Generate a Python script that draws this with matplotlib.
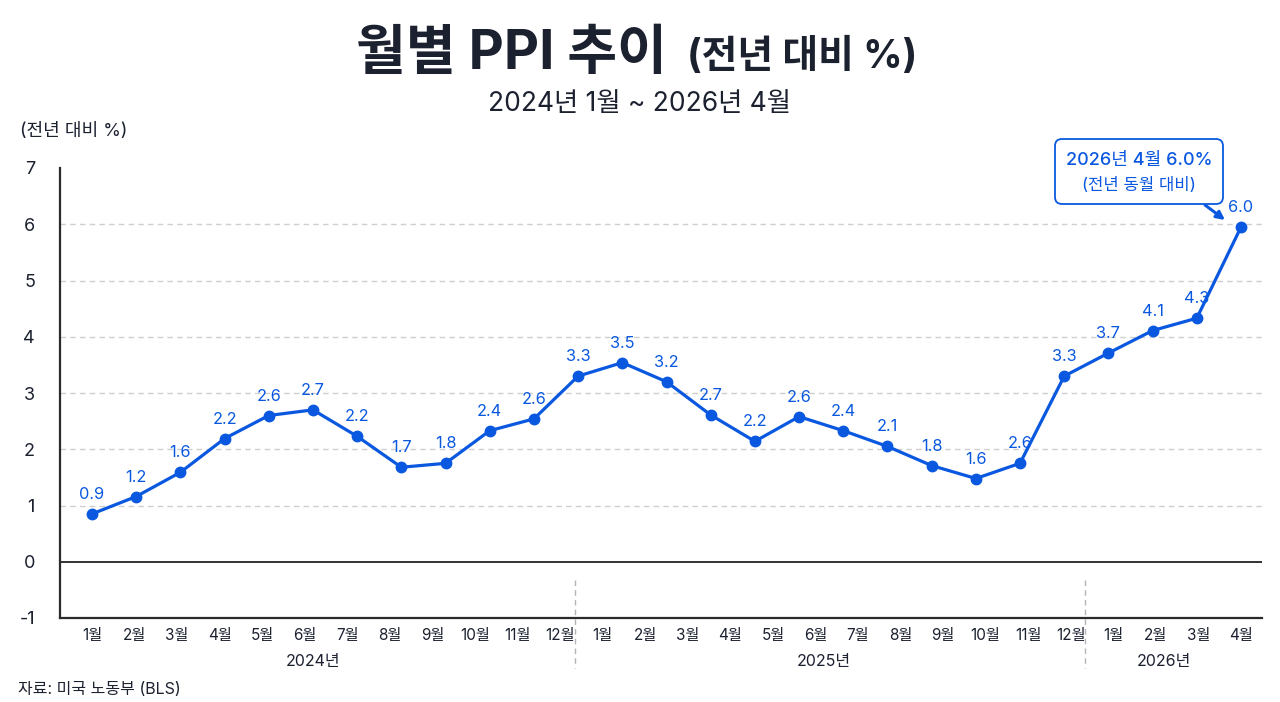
import numpy as np
import matplotlib
matplotlib.use("Agg")
import matplotlib.pyplot as plt
from matplotlib.patches import FancyBboxPatch
import matplotlib.transforms as mtransforms

plt.rcParams['font.family'] = ['Inter', 'Noto Sans CJK KR', 'DejaVu Sans']

# ---------------- data ----------------
values = [0.85, 1.16, 1.59, 2.19, 2.60, 2.70, 2.23, 1.68, 1.75, 2.33, 2.54, 3.30,
          3.54, 3.20, 2.61, 2.14, 2.58, 2.33, 2.05, 1.71, 1.48, 1.75, 3.30,
          3.71, 4.11, 4.33, 5.95]
labels = ["0.9", "1.2", "1.6", "2.2", "2.6", "2.7", "2.2", "1.7", "1.8", "2.4", "2.6", "3.3",
          "3.5", "3.2", "2.7", "2.2", "2.6", "2.4", "2.1", "1.8", "1.6", "2.6", "3.3",
          "3.7", "4.1", "4.3", "6.0"]
month_labels = ([f"{m}월" for m in range(1, 13)] + [f"{m}월" for m in range(1, 13)]
                + [f"{m}월" for m in range(1, 5)])
year_labels = ["2024년", "2025년", "2026년"]
year_counts = [12, 12, 4]
y_ticks = [-1, 0, 1, 2, 3, 4, 5, 6, 7]

title_main = "월별 PPI 추이"
title_sub = "(전년 대비 %)"
subtitle = "2024년 1월 ~ 2026년 4월"
y_label = "(전년 대비 %)"
source = "자료: 미국 노동부 (BLS)"
callout1 = "2026년 4월 6.0%"
callout2 = "(전년 동월 대비)"

BLUE = "#0A58E0"
DARK = "#1c2130"
GRID = "#cfcfcf"

fig = plt.figure(figsize=(12.8, 7.02), dpi=100)
fig.patch.set_facecolor("white")
ax = fig.add_axes([60/1280, (702-618)/702, (1262-60)/1280, (618-168)/702])

x = np.arange(len(values))
ax.set_xlim(-32/44.19, len(values) - 1 + 21/44.19)
ax.set_ylim(-1, 7)

# grid lines
for yv in range(1, 7):
    ax.axhline(yv, color=GRID, lw=1.0, ls=(0, (4, 3)), zorder=1)
ax.axhline(0, color="#222222", lw=1.3, zorder=2)

ax.plot(x, values, color=BLUE, lw=2.3, marker="o", markersize=7.5, zorder=4)
for xi, v, t in zip(x, values, labels):
    ax.annotate(t, (xi, v), xytext=(0, 14), textcoords="offset points",
                ha="center", va="center", fontsize=11.8, color=BLUE, zorder=5)

# spines
for s in ["top", "right"]:
    ax.spines[s].set_visible(False)
for s in ["left", "bottom"]:
    ax.spines[s].set_color("#2a2a2a")
    ax.spines[s].set_linewidth(1.6)

ax.set_yticks(y_ticks)
ax.set_yticklabels([str(v) for v in y_ticks], fontsize=13, color=DARK)
ax.tick_params(axis="y", length=0, pad=18)

# month ticks
n_months = len(month_labels)
tick_pos = np.linspace(0, len(values) - 1, n_months)
ax.set_xticks(tick_pos)
ax.set_xticklabels(month_labels, fontsize=11, color=DARK)
ax.tick_params(axis="x", length=0, pad=7)

# year labels & dividers
trans = mtransforms.blended_transform_factory(ax.transData, ax.transAxes)
start = 0
for i, (yl, cnt) in enumerate(zip(year_labels, year_counts)):
    grp = tick_pos[start:start + cnt]
    ax.text(grp.mean() - 0.3, -0.0956, yl, transform=trans, ha="center", va="center",
            fontsize=11.5, color=DARK)
    if i < len(year_labels) - 1:
        xd = (tick_pos[start + cnt - 1] + tick_pos[start + cnt]) / 2 - 0.15
        ax.plot([xd, xd], [0.084, -0.111], transform=trans, color="#b5b5b5",
                lw=1.0, ls=(0, (4, 3)), clip_on=False, zorder=1)
    start += cnt

# titles (two-part main title, centered)
renderer = fig.canvas.get_renderer()
t1 = fig.text(0, 1 - 55/702, title_main, fontsize=39, fontweight="bold", color=DARK,
              ha="left", va="center")
t2 = fig.text(0, 1 - 57/702, title_sub, fontsize=28, fontweight="bold", color=DARK,
              ha="left", va="center")
w1 = t1.get_window_extent(renderer).width
w2 = t2.get_window_extent(renderer).width
gap = 20
total = w1 + gap + w2
x0 = (1280 * 0.5 - 3 - total / 2)
t1.set_x(x0 / 1280)
t2.set_x((x0 + w1 + gap) / 1280)

fig.text(640/1280, 1 - 104/702, subtitle, fontsize=19, color=DARK, ha="center", va="center")
fig.text(20/1280, 1 - 131/702, y_label, fontsize=13, color=DARK, ha="left", va="center")
fig.text(18/1280, 1 - 689/702, source, fontsize=11.5, color=DARK, ha="left", va="center")

# callout box
inch = fig.dpi_scale_trans
box = FancyBboxPatch((10.55, 4.98), 1.68, 0.65,
                     boxstyle="round,pad=0,rounding_size=0.07",
                     transform=inch, facecolor="white", edgecolor=BLUE, lw=1.3,
                     zorder=6)
fig.patches.append(box)
fig.text(11.39, 5.42, callout1, transform=inch, fontsize=13, fontweight="medium",
         color=BLUE, ha="center", va="center", zorder=7)
fig.text(11.39, 5.17, callout2, transform=inch, fontsize=12, color=BLUE,
         ha="center", va="center", zorder=7)
ax.annotate("", xy=(12.25, 4.82), xycoords=inch, xytext=(12.05, 4.97),
            textcoords=inch,
            arrowprops=dict(arrowstyle="-|>", color=BLUE, lw=2.2, mutation_scale=12,
                            shrinkA=0, shrinkB=0))

fig.savefig("out.png", dpi=100, facecolor="white")
